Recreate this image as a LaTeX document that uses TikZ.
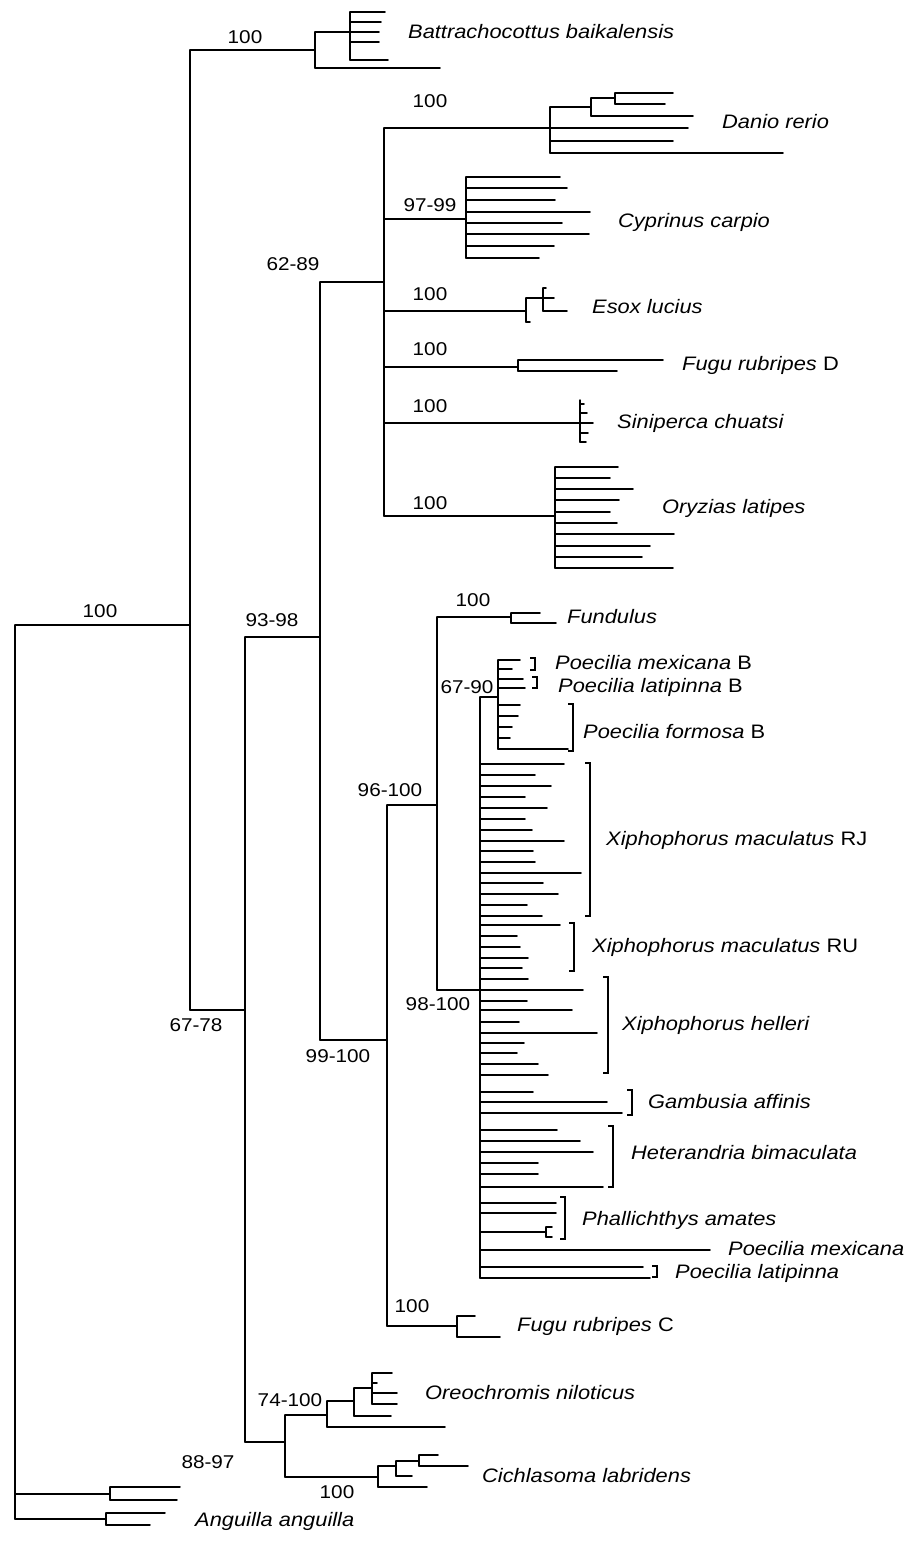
\documentclass[tikz,border=0pt]{standalone}
\usepackage{fontspec}
\setmainfont{Liberation Sans}[FakeStretch=1.12]

\tikzset{
  branch/.style={line width=1.5pt},
  taxon/.style={anchor=west, inner sep=0pt, font=\fontsize{19.5}{22}\selectfont},
  support/.style={inner sep=0pt, font=\fontsize{18.5}{21}\selectfont},
}

\begin{document}
\begin{tikzpicture}[x=1pt, y=-1pt, line cap=round]
    \fill[white] (0,0) rectangle (906,1549);
    \useasboundingbox (0,0) rectangle (906,1549);

    % internal nodes: x of the node, y of the branch leading to it
    \coordinate (root)  at (15,625);
    \coordinate (n1)    at (190,625);
    \coordinate (bat)   at (315,50);
    \coordinate (batc)  at (350,32);
    \coordinate (n2)    at (245,1010);
    \coordinate (n3)    at (320,637);
    \coordinate (n4)    at (384,282);
    \coordinate (dan)   at (550,128);
    \coordinate (dan1)  at (591,107);
    \coordinate (dan2)  at (615,98);
    \coordinate (cyp)   at (466,219);
    \coordinate (eso)   at (526,311);
    \coordinate (eso1)  at (543,298);
    \coordinate (fud)   at (518,367);
    \coordinate (sin)   at (580,423);
    \coordinate (ory)   at (555,516);
    \coordinate (n5)    at (387,1040);
    \coordinate (n6)    at (437,805);
    \coordinate (fun)   at (511,617);
    \coordinate (n7)    at (480,990);
    \coordinate (pb)    at (498,697);
    \coordinate (pha)   at (546,1232);
    \coordinate (fuc)   at (457,1326);
    \coordinate (cic)   at (285,1442);
    \coordinate (oreo)  at (327,1415);
    \coordinate (oreo1) at (354,1401);
    \coordinate (oreo2) at (372,1388);
    \coordinate (cla)   at (378,1477);
    \coordinate (cla1)  at (396,1466);
    \coordinate (cla2)  at (419,1461);
    \coordinate (ang1)  at (110,1494);
    \coordinate (ang2)  at (106,1519);

    % branches into the internal nodes
    \foreach \c/\p in {n1/root, bat/n1, batc/bat, n2/n1, n3/n2, n4/n3, dan/n4,
        dan1/dan, dan2/dan1, cyp/n4, eso/n4, eso1/eso, fud/n4, sin/n4, ory/n4,
        n5/n3, n6/n5, fun/n6, n7/n6, pb/n7, pha/n7, fuc/n5, cic/n2, oreo/cic,
        oreo1/oreo, oreo2/oreo1, cla/cic, cla1/cla, cla2/cla1, ang1/root, ang2/root}
      \draw[branch] (\c -| \p) -- (\c);

    % vertical spans of the nodes
    \foreach \n/\a/\b in {root/625/1519, n1/50/1010, bat/32/68, batc/12/60,
        n2/637/1442, n3/282/1040, n4/128/516, dan/107/153, dan1/98/116,
        dan2/93/104, cyp/177/258, eso/298/322, eso1/288/311, fud/360/371,
        sin/400/442, ory/467/568, n5/805/1326, n6/617/990, fun/613/623,
        n7/697/1278, pb/660/749, pha/1227/1237, fuc/1316/1337, cic/1415/1477,
        oreo/1401/1427, oreo1/1388/1416, oreo2/1373/1404, cla/1466/1487,
        cla1/1461/1476, cla2/1455/1466, ang1/1487/1500, ang2/1513/1525}
      \draw[branch] (\n |- 0,\a) -- (\n |- 0,\b);

    % terminal branches
    \foreach \n/\y/\e in {bat/68/440, batc/12/385, batc/22/381, batc/32/379,
        batc/42/379, batc/60/388,
        dan/128/688, dan/141/673, dan/153/783, dan1/116/693, dan2/93/673, dan2/104/665,
        cyp/177/560, cyp/188/567, cyp/200/555, cyp/212/590, cyp/223/562,
        cyp/234/589, cyp/246/554, cyp/258/539,
        eso/322/530, eso1/288/546, eso1/298/554, eso1/311/567,
        fud/360/663, fud/371/617,
        sin/404/584, sin/413/587, sin/423/593, sin/433/588, sin/442/586,
        ory/467/618, ory/478/610, ory/489/633, ory/500/619, ory/512/610,
        ory/523/617, ory/534/674, ory/546/650, ory/557/642, ory/568/673,
        fun/613/540, fun/623/556,
        pb/660/520, pb/669/512, pb/679/523, pb/688/525, pb/705/520,
        pb/716/518, pb/727/512, pb/738/510, pb/749/568,
        n7/764/564, n7/775/535, n7/786/551, n7/797/525, n7/808/547,
        n7/819/525, n7/830/532, n7/841/564, n7/851/533, n7/862/535,
        n7/873/581, n7/883/543, n7/894/558, n7/905/527, n7/916/542,
        n7/925/560, n7/936/517, n7/947/520, n7/958/528, n7/968/522,
        n7/979/528, n7/990/583, n7/1001/527, n7/1010/572, n7/1022/519,
        n7/1033/597, n7/1043/524, n7/1053/517, n7/1064/538, n7/1075/548,
        n7/1092/533, n7/1102/607, n7/1113/622,
        n7/1130/557, n7/1141/580, n7/1152/593, n7/1163/538, n7/1174/538, n7/1187/603,
        n7/1203/556, n7/1213/556, pha/1227/552, pha/1237/552,
        n7/1250/710, n7/1267/643, n7/1278/650,
        fuc/1316/475, fuc/1337/500,
        oreo/1427/445, oreo1/1416/391, oreo2/1373/392, oreo2/1383/377,
        oreo2/1393/397, oreo2/1404/397,
        cla/1487/427, cla1/1476/412, cla2/1455/438, cla2/1466/468,
        ang1/1487/180, ang1/1500/177, ang2/1513/165, ang2/1525/150}
      \draw[branch] (\n |- 0,\y) -- (\e,\y);

    % brackets round groups of sequences
    \foreach \x/\a/\b in {535/658/670, 537/677/688, 573/704/751, 590/763/916,
        574/923/971, 608/977/1073, 632/1090/1115, 613/1126/1187,
        565/1197/1239, 657/1266/1277}
      \draw[line width=1.3pt, line cap=butt] ({\x-5},\a) -| (\x,\b) -- ({\x-5},\b);

    % support values
    \node[support] (s-root) at (100,611) {100};
    \node[support] (s-bat)  at (245,37)  {100};
    \node[support] (s-dan)  at (430,101) {100};
    \node[support] (s-cyp)  at (430,205) {97-99};
    \node[support] (s-eso)  at (430,294) {100};
    \node[support] (s-fud)  at (430,349) {100};
    \node[support] (s-sin)  at (430,406) {100};
    \node[support] (s-ory)  at (430,503) {100};
    \node[support] (s-n4)   at (293,264) {62-89};
    \node[support] (s-n3)   at (272,620) {93-98};
    \node[support] (s-fun)  at (473,600) {100};
    \node[support] (s-pb)   at (467,687) {67-90};
    \node[support] (s-n6)   at (390,790) {96-100};
    \node[support] (s-n7)   at (438,1004) {98-100};
    \node[support] (s-n2)   at (196,1025) {67-78};
    \node[support] (s-n5)   at (338,1056) {99-100};
    \node[support] (s-fuc)  at (412,1306) {100};
    \node[support] (s-oreo) at (290,1400) {74-100};
    \node[support] (s-cic)  at (208,1462) {88-97};
    \node[support] (s-cla)  at (337,1492) {100};

    % taxa
    \node[taxon] (t-bat)   at (408,32)   {\textit{Battrachocottus baikalensis}};
    \node[taxon] (t-dan)   at (722,122)  {\textit{Danio rerio}};
    \node[taxon] (t-cyp)   at (618,222)  {\textit{Cyprinus carpio}};
    \node[taxon] (t-eso)   at (592,307)  {\textit{Esox lucius}};
    \node[taxon] (t-fud)   at (682,365)  {\textit{Fugu rubripes} D};
    \node[taxon] (t-sin)   at (617,423)  {\textit{Siniperca chuatsi}};
    \node[taxon] (t-ory)   at (662,508)  {\textit{Oryzias latipes}};
    \node[taxon] (t-fun)   at (567,617)  {\textit{Fundulus}};
    \node[taxon] (t-pmexb) at (555,663)  {\textit{Poecilia mexicana} B};
    \node[taxon] (t-platb) at (558,687)  {\textit{Poecilia latipinna} B};
    \node[taxon] (t-pforb) at (583,732)  {\textit{Poecilia formosa} B};
    \node[taxon] (t-xrj)   at (606,840)  {\textit{Xiphophorus maculatus} RJ};
    \node[taxon] (t-xru)   at (592,947)  {\textit{Xiphophorus maculatus} RU};
    \node[taxon] (t-xhel)  at (622,1025) {\textit{Xiphophorus helleri}};
    \node[taxon] (t-gam)   at (648,1102) {\textit{Gambusia affinis}};
    \node[taxon] (t-het)   at (631,1153) {\textit{Heterandria bimaculata}};
    \node[taxon] (t-pha)   at (582,1220) {\textit{Phallichthys amates}};
    \node[taxon] (t-pmex)  at (728,1249) {\textit{Poecilia mexicana}};
    \node[taxon] (t-plat)  at (675,1273) {\textit{Poecilia latipinna}};
    \node[taxon] (t-fuc)   at (517,1326) {\textit{Fugu rubripes} C};
    \node[taxon] (t-oreo)  at (425,1393) {\textit{Oreochromis niloticus}};
    \node[taxon] (t-cla)   at (482,1476) {\textit{Cichlasoma labridens}};
    \node[taxon] (t-ang)   at (195,1521) {\textit{Anguilla anguilla}};
\end{tikzpicture}
\end{document}
